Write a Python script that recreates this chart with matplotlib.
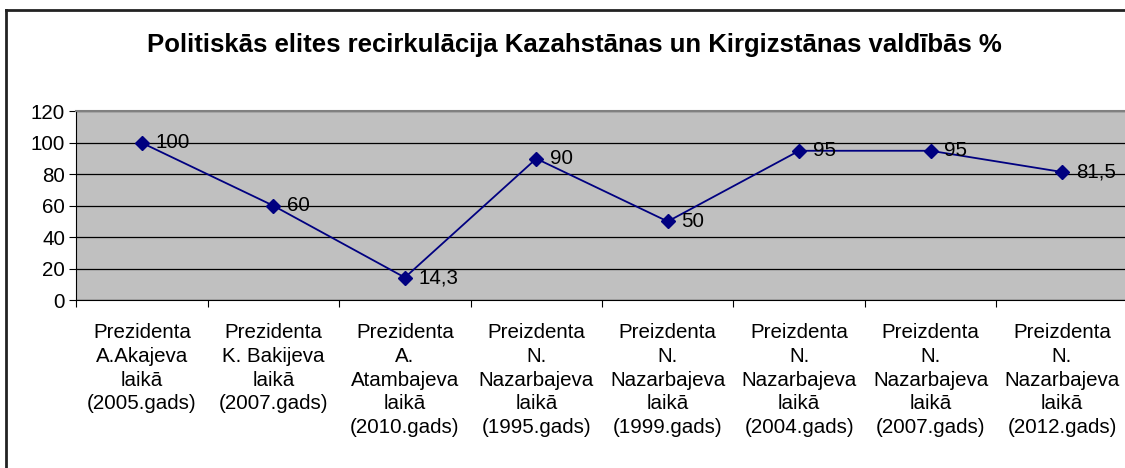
import matplotlib
matplotlib.use("Agg")
import matplotlib.pyplot as plt
from matplotlib.lines import Line2D

plt.rcParams['font.family'] = ['Liberation Sans', 'DejaVu Sans']

title = "Politiskās elites recirkulācija Kazahstānas un Kirgizstānas valdībās %"
categories = [
    "Prezidenta\nA.Akajeva\nlaikā\n(2005.gads)",
    "Prezidenta\nK. Bakijeva\nlaikā\n(2007.gads)",
    "Prezidenta\nA.\nAtambajeva\nlaikā\n(2010.gads)",
    "Preizdenta\nN.\nNazarbajeva\nlaikā\n(1995.gads)",
    "Preizdenta\nN.\nNazarbajeva\nlaikā\n(1999.gads)",
    "Preizdenta\nN.\nNazarbajeva\nlaikā\n(2004.gads)",
    "Preizdenta\nN.\nNazarbajeva\nlaikā\n(2007.gads)",
    "Preizdenta\nN.\nNazarbajeva\nlaikā\n(2012.gads)",
]
values = [100, 60, 14.3, 90, 50, 95, 95, 81.5]
value_labels = ["100", "60", "14,3", "90", "50", "95", "95", "81,5"]
yticks = [0, 20, 40, 60, 80, 100, 120]

W, H = 1125, 468
fig = plt.figure(figsize=(W / 100, H / 100), dpi=100)
fig.patch.set_facecolor("white")

# outer chart frame (only top & left visible)
fig.add_artist(Line2D([5.5 / W, 5.5 / W], [0, 1 - 10 / H], transform=fig.transFigure,
                      color="#222222", lw=2))
fig.add_artist(Line2D([5.5 / W, 1], [1 - 10 / H, 1 - 10 / H], transform=fig.transFigure,
                      color="#222222", lw=2))

left, right = 76.3, 1127.7
top, bottom = 111.5, 300
ax = fig.add_axes([left / W, 1 - bottom / H, (right - left) / W, (bottom - top) / H])
ax.set_facecolor("#C0C0C0")

fs = 14.8
x = list(range(len(values)))
ax.plot(x, values, color="#000080", lw=1.3, marker="D", markersize=7,
        markerfacecolor="#000080", markeredgecolor="#000080", zorder=3)
for xi, v, lab in zip(x, values, value_labels):
    ax.annotate(lab, (xi, v), xytext=(10, 0), textcoords="offset points",
                va="center", ha="left", fontsize=fs, color="black", zorder=4)

ax.set_xlim(-0.5, len(values) - 0.5)
ax.set_ylim(0, 120)
ax.set_yticks(yticks)
ax.set_yticklabels([str(t) for t in yticks], fontsize=fs)
ax.yaxis.grid(True, color="black", lw=0.9)
ax.set_axisbelow(True)

ax.set_xticks([i - 0.5 for i in range(len(values) + 1)])
ax.set_xticklabels([])
ax.set_xticks(x, minor=True)
ax.set_xticklabels(categories, minor=True, fontsize=fs, linespacing=1.32, va="top")
ax.tick_params(axis="x", which="minor", length=0, pad=16.5)
ax.tick_params(axis="x", which="major", length=5, direction="out", color="black")
ax.tick_params(axis="y", length=5, direction="out", color="black", pad=3)

ax.spines["right"].set_visible(False)
ax.spines["top"].set_color("#808080")
ax.spines["top"].set_linewidth(1.5)
ax.spines["left"].set_color("black")
ax.spines["bottom"].set_color("black")

fig.text(574 / W, 1 - 45 / H, title, ha="center", va="center", fontsize=18.5,
         fontweight="bold")

fig.savefig("out.png", dpi=100)
